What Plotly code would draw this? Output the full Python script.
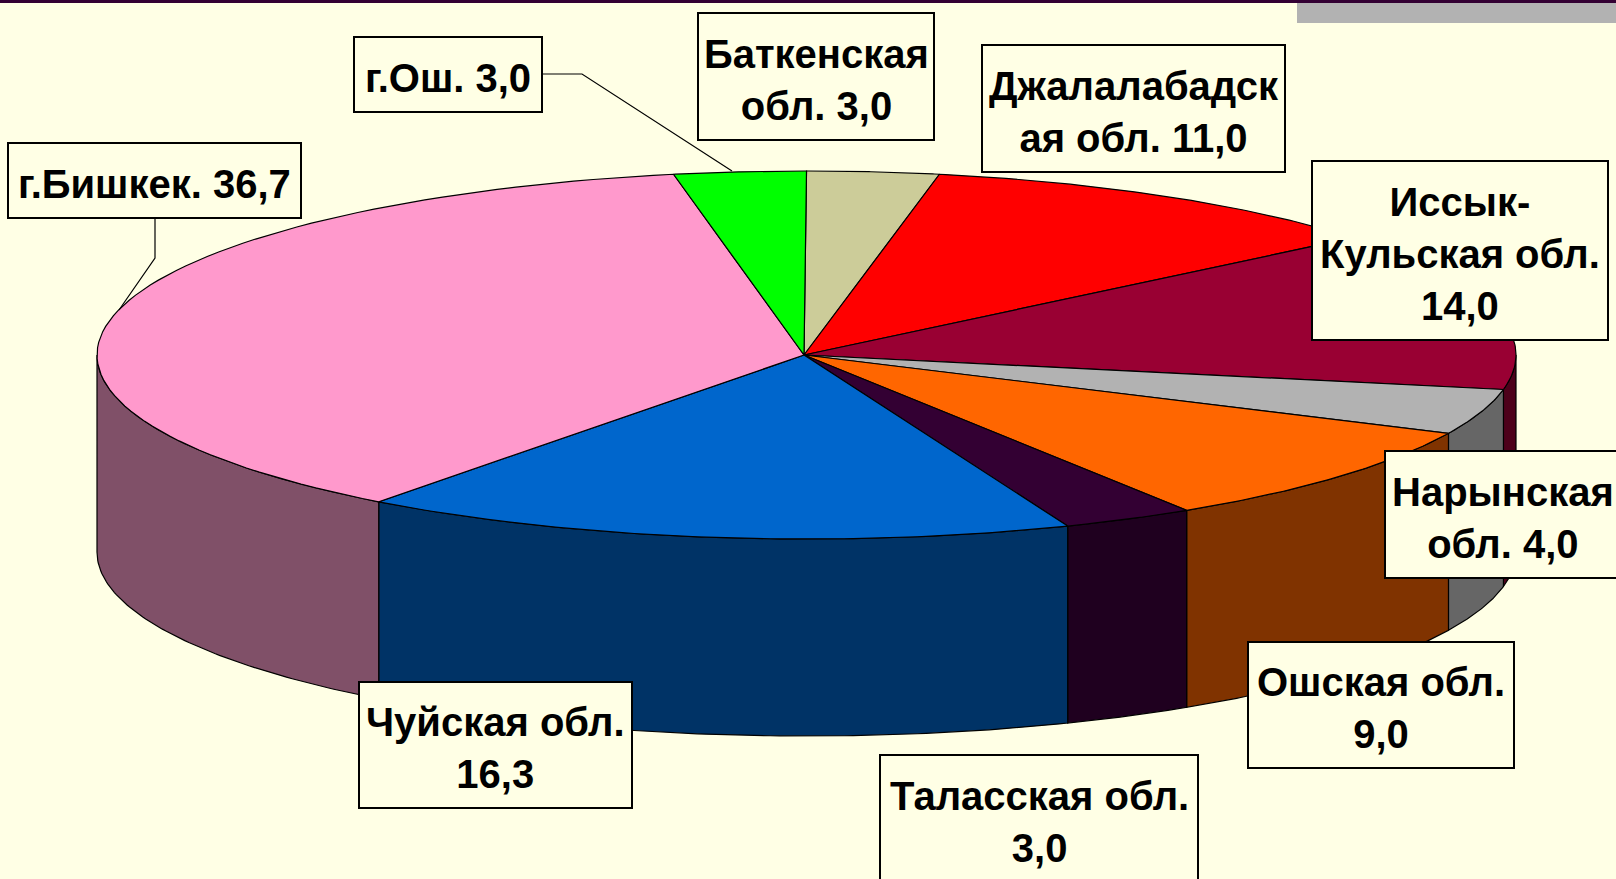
import numpy as np
import plotly.graph_objects as go

# ---- data (clockwise from 12 o'clock) ----
regions = ["Баткенская обл.", "Джалалабадская обл.", "Иссык-Кульская обл.", "Нарынская обл.",
           "Ошская обл.", "Таласская обл.", "Чуйская обл.", "г.Бишкек.", "г.Ош."]
values = [3.0, 11.0, 14.0, 4.0, 9.0, 3.0, 16.3, 36.7, 3.0]
top_colors = ["#CCCC99", "#FF0000", "#990033", "#B2B2B2", "#FF6600", "#330033", "#0066CC", "#FF99CC", "#00FF00"]
side_colors = ["#666650", "#800000", "#4D001A", "#666666", "#803300", "#1F001F", "#003366", "#805068", "#008000"]
label_lines = [["Баткенская", "обл. {v}"], ["Джалалабадск", "ая обл. {v}"], ["Иссык-", "Кульская обл.", "{v}"],
               ["Нарынская", "обл. {v}"], ["Ошская обл.", "{v}"], ["Таласская обл.", "{v}"],
               ["Чуйская обл.", "{v}"], ["г.Бишкек. {v}"], ["г.Ош. {v}"]]

# ---- layout config (pixel space of the picture) ----
W, H = 1616, 879
APEX_X, RIM_X, CY, RX, RY, DEPTH = 804, 806.5, 355, 709.5, 184, 197
BG = "#FFFFE5"
boxes = [(698, 13, 934, 140), (982, 45, 1285, 172), (1312, 161, 1608, 340), (1385, 451, 1620, 578),
         (1248, 642, 1514, 768), (880, 755, 1198, 882), (359, 682, 632, 808), (8, 143, 301, 218), (354, 37, 542, 112)]
FONT = dict(family="Liberation Sans, Arial, sans-serif", size=40, color="#000000")
TEXT_DROP = 3


def pt(deg):
    r = np.radians(deg)
    return RIM_X + RX * np.sin(r), CY - RY * np.cos(r)


fig = go.Figure()
edges = np.concatenate([[0], np.cumsum(values)]) / sum(values) * 360

# sides: only the front half of the rim is visible
for i, name in enumerate(regions):
    a, b = max(edges[i], 90), min(edges[i + 1], 270)
    if b <= a:
        continue
    t = np.linspace(a, b, 80)
    x, y = pt(t)
    fig.add_trace(go.Scatter(x=np.r_[x, x[::-1], x[0]], y=np.r_[y, y[::-1] + DEPTH, y[0]], mode="lines", fill="toself",
                             fillcolor=side_colors[i], line=dict(color="#000000", width=1.2),
                             name=name, hoverinfo="name", showlegend=False))
# top face
for i, name in enumerate(regions):
    t = np.linspace(edges[i], edges[i + 1], 80)
    x, y = pt(t)
    fig.add_trace(go.Scatter(x=np.r_[APEX_X, x, APEX_X], y=np.r_[CY, y, CY], mode="lines", fill="toself",
                             fillcolor=top_colors[i], line=dict(color="#000000", width=1.2),
                             name=name, text=[f"{values[i]}"] * 82, hoverinfo="name+text", showlegend=False))

# leader lines
leaders = [([542, 582, 732], [74, 74, 171]), ([155, 155, 119], [218, 258, 310])]
for lx, ly in leaders:
    fig.add_trace(go.Scatter(x=lx, y=ly, mode="lines", line=dict(color="#000000", width=1.2),
                             hoverinfo="skip", showlegend=False))

shapes = [
    dict(type="rect", x0=0, x1=W, y0=0, y1=3, fillcolor="#330033", line_width=0, layer="below"),
    dict(type="rect", x0=1297, x1=W, y0=3, y1=23, fillcolor="#B2B2B2", line_width=0, layer="below"),
]

# labels
annotations = []
for i, parts in enumerate(label_lines):
    val = f"{values[i]:.1f}".replace(".", ",")
    lines = [p.format(v=val) for p in parts]
    x0, y0, x1, y1 = boxes[i]
    shapes.append(dict(type="rect", x0=x0, x1=x1, y0=y0, y1=y1, fillcolor=BG, layer="above",
                       line=dict(color="#000000", width=2)))
    annotations.append(dict(x=(x0 + x1) / 2, y=(y0 + y1) / 2 + TEXT_DROP, xref="x", yref="y",
                            xanchor="center", yanchor="middle", showarrow=False,
                            text="<b>" + "<br>".join(lines) + "</b>", font=FONT, align="center"))

fig.update_layout(
    width=W, height=H, autosize=False, margin=dict(l=0, r=0, t=0, b=0),
    paper_bgcolor=BG, plot_bgcolor=BG, annotations=annotations, shapes=shapes,
    xaxis=dict(range=[0, W], visible=False, fixedrange=True),
    yaxis=dict(range=[H, 0], visible=False, fixedrange=True),
)
fig.write_html("out.html", config=dict(displayModeBar=False),
               post_script="document.body.style.margin='0';document.body.style.overflow='hidden';")
